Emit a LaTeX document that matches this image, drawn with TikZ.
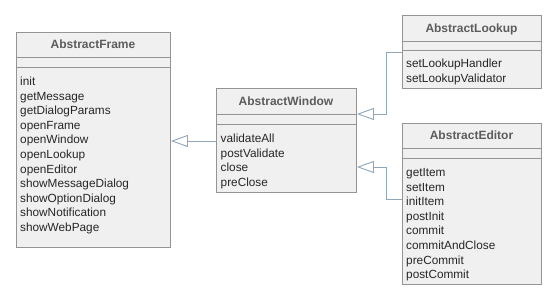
\documentclass[tikz,border=0pt]{standalone}
\usepackage{fontspec}
\setmainfont{Liberation Sans}
\usetikzlibrary{arrows.meta}

\definecolor{boxfill}{HTML}{F0F0F0}
\definecolor{boxline}{HTML}{949494}
\definecolor{titlegray}{HTML}{5C5C5C}
\definecolor{linkblue}{HTML}{8FA6BB}

\tikzset{
  classbox/.style={draw=boxline, fill=boxfill, line width=0.9pt, inner sep=0pt, anchor=north west},
  classname/.style={font=\bfseries\fontsize{12}{14}\selectfont, text=titlegray, inner sep=0pt, anchor=base},
  method/.style={font=\fontsize{11.8}{14}\selectfont, text=black!85, inner sep=0pt, anchor=base west},
  divider/.style={draw=boxline, line width=0.9pt},
  inherit/.style={draw=linkblue, line width=0.9pt, -{Triangle[open, length=17pt, width=12pt, fill=white]}}
}

\begin{document}
\begin{tikzpicture}[x=1pt,y=-1pt]
\useasboundingbox (0,0) rectangle (557,304);

% class boxes
\node[classbox, minimum width=154pt, minimum height=215pt] (frame) at (16,32) {};
\node[classbox, minimum width=140pt, minimum height=104pt] (window) at (216,88) {};
\node[classbox, minimum width=139pt, minimum height=73pt] (lookup) at (402,15) {};
\node[classbox, minimum width=139pt, minimum height=161pt] (editor) at (402,123) {};

% header and attribute dividers
\draw[divider] (frame.west |- 0,57) -- (frame.east |- 0,57);
\draw[divider] (frame.west |- 0,67) -- (frame.east |- 0,67);
\draw[divider] (window.west |- 0,114) -- (window.east |- 0,114);
\draw[divider] (window.west |- 0,124) -- (window.east |- 0,124);
\draw[divider] (lookup.west |- 0,41) -- (lookup.east |- 0,41);
\draw[divider] (lookup.west |- 0,50) -- (lookup.east |- 0,50);
\draw[divider] (editor.west |- 0,148) -- (editor.east |- 0,148);
\draw[divider] (editor.west |- 0,158) -- (editor.east |- 0,158);

% class names
\node[classname] (frametitle) at (93,49) {AbstractFrame};
\node[classname] (windowtitle) at (286,105.5) {AbstractWindow};
\node[classname] (lookuptitle) at (471.5,32.5) {AbstractLookup};
\node[classname] (editortitle) at (471.5,140) {AbstractEditor};

% methods
\foreach \m [count=\i from 0] in {init,getMessage,getDialogParams,openFrame,openWindow,openLookup,openEditor,showMessageDialog,showOptionDialog,showNotification,showWebPage}
  \node[method] (frame-\i) at (20,{85.5+14.6*\i}) {\m};
\foreach \m [count=\i from 0] in {validateAll,postValidate,close,preClose}
  \node[method] (window-\i) at (220.5,{142.5+14.6*\i}) {\m};
\foreach \m [count=\i from 0] in {setLookupHandler,setLookupValidator}
  \node[method] (lookup-\i) at (406,{68+14.6*\i}) {\m};
\foreach \m [count=\i from 0] in {getItem,setItem,initItem,postInit,commit,commitAndClose,preCommit,postCommit}
  \node[method] (editor-\i) at (406,{176.5+14.6*\i}) {\m};

% generalisations
\draw[inherit] (window.west |- 0,141) -- (frame.east |- 0,141);
\draw[inherit] (lookup.west |- 0,52) -| (386,114) -- (window.east |- 0,114);
\draw[inherit] (editor.west |- 0,199) -| (386,167) -- (window.east |- 0,167);
\end{tikzpicture}
\end{document}
